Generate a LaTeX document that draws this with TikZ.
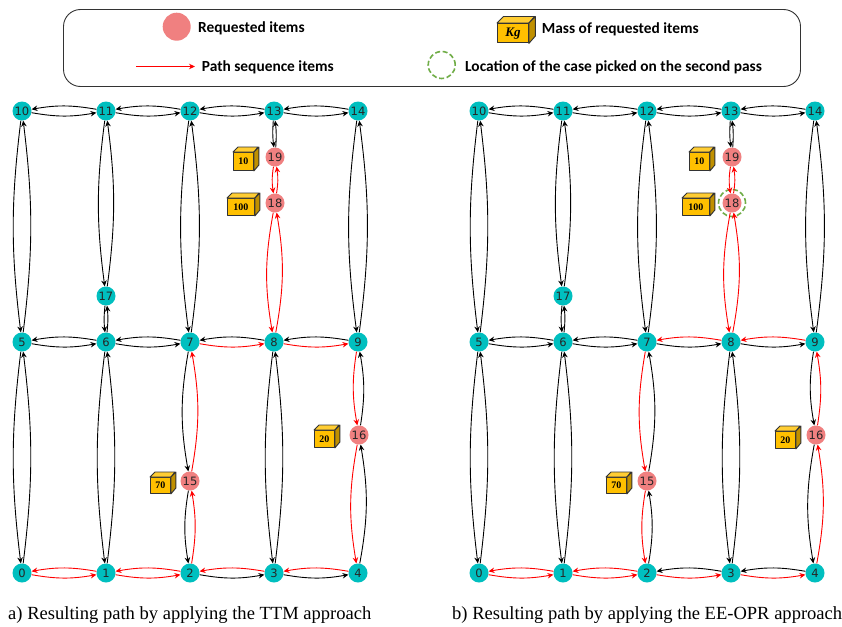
\documentclass[tikz,border=0pt]{standalone}
\usepackage{fontspec}
\setmainfont{Liberation Serif}
\newfontfamily\lblfont{DejaVu Sans}
\newfontfamily\legfont{Carlito}
\usetikzlibrary{arrows.meta}
\definecolor{nodeteal}{rgb}{0,0.75,0.75}
\definecolor{nodepink}{HTML}{F08080}
\definecolor{boxfront}{HTML}{FFC000}
\definecolor{boxtop}{HTML}{FFCD33}
\definecolor{boxside}{HTML}{C09000}
\definecolor{passgreen}{HTML}{70AD47}
\tikzset{
  gridnode/.style={circle,fill=nodeteal,inner sep=0pt,minimum size=19pt,font=\lblfont\fontsize{11.5}{12}\selectfont,text=black!85},
  reqnode/.style={gridnode,fill=nodepink},
  edgeblack/.style={draw=black,line width=0.9pt,-{Stealth[length=6pt,width=5.5pt]}},
  edgered/.style={draw=red,line width=0.9pt,-{Stealth[length=6pt,width=5.5pt]}},
  boxface/.style={draw=black!80,line width=0.9pt,line join=round},
  boxlabel/.style={boxface,fill=boxfront,inner sep=0pt,font=\bfseries\fontsize{10}{11}\selectfont},
  legtext/.style={anchor=west,inner sep=0pt,font=\legfont\bfseries\fontsize{15.4}{16}\selectfont},
  caption/.style={anchor=west,inner sep=0pt,font=\fontsize{18.55}{20}\selectfont},
  secondpass/.style={circle,draw=passgreen,dash pattern=on 5pt off 2.6pt,line width=1.6pt,inner sep=0pt,minimum size=27pt}
}
% name, left, top, width, height, depth, text
\newcommand{\massbox}[7]{%
  \node[boxlabel,anchor=north west,minimum width=#4pt,minimum height=#5pt] (#1) at (#2,#3) {#7};
  \draw[boxface,fill=boxtop] (#1.north west) -- ++(#6pt,#6pt) -- ++(#4pt,0pt) -- (#1.north east) -- cycle;
  \draw[boxface,fill=boxside] (#1.north east) -- ++(#6pt,#6pt) -- ++(0pt,-#5pt) -- (#1.south east) -- cycle;
}
\newcommand{\gridgraph}[2]{%
  \begin{scope}[shift={(#2,0)}]
  \foreach \n/\x/\y in {0/22/573,1/106/573,2/190/573,3/274/573,4/358/573,
    5/22/342,6/106/342,7/190/342,8/274/342,9/358/342,
    10/22/111,11/106/111,12/190/111,13/274/111,14/358/111,17/106/296}
    \node[gridnode] (#1\n) at (\x,\y) {\n};
  \foreach \n/\x/\y in {15/190/481,16/359/435,18/275/203,19/275/157}
    \node[reqnode] (#1\n) at (\x,\y) {\n};
  \end{scope}
}
\begin{document}
\begin{tikzpicture}[x=1pt,y=-1pt]
\useasboundingbox (0,0) rectangle (842,626);
\fill[white] (0,0) rectangle (842,626);

% legend
\draw[black!80,line width=0.9pt,rounded corners=17pt] (63.5,9.5) rectangle (800.5,86.5);
\node[circle,fill=nodepink,minimum size=28pt,inner sep=0pt] (legreq) at (176.7,26.7) {};
\node[legtext] (legreqtext) at (198,28) {Requested items};
\coordinate (legstart) at (136,66.5);
\coordinate (legend) at (195,66.5);
\draw[red,line width=1.2pt,-{Stealth[length=6pt,width=5.5pt]}] (legstart) -- (legend);
\node[legtext] (legpath) at (201.7,67.5) {Path sequence items};
\massbox{legbox}{497}{23}{31}{19.5}{6.5}{\normalfont\itshape\bfseries\fontsize{13}{14}\selectfont Kg}
\node[legtext] (legmass) at (541.7,29) {Mass of requested items};
\node[secondpass] (leggreen) at (441.7,65) {};
\node[legtext] (legloc) at (465,67) {Location of the case picked on the second pass};

% left panel
\massbox{abox10}{233}{152}{20}{18}{5}{10}
\massbox{abox100}{227}{198}{27}{17}{5}{100}
\massbox{abox70}{150}{477}{20}{16}{5}{70}
\massbox{abox20}{314}{430}{20}{17}{5}{20}
\gridgraph{a}{0}

% right panel
\massbox{bbox10}{689}{152}{20}{18}{5}{10}
\massbox{bbox100}{682}{198}{27}{17}{5}{100}
\massbox{bbox70}{606}{477}{20}{16}{5}{70}
\massbox{bbox20}{775}{431}{20}{17}{5}{20}
\gridgraph{b}{457}
\node[secondpass] (bsecond) at (b18) {};

% left: black edges
\foreach \u/\v/\b in {5/6/10,6/5/10,6/7/10,7/6/10,8/7/10,9/8/10,
  10/11/10,11/10/10,11/12/10,12/11/10,12/13/10,13/12/10,13/14/10,14/13/10,
  2/3/10,3/4/10,
  0/5/7,5/0/7,5/10/7,10/5/7,1/6/7,6/1/7,3/8/7,8/3/7,
  6/17/6,17/6/6,17/11/7.5,11/17/7.5,
  7/12/7.5,12/7/7.5,9/14/7.5,14/9/7.5,13/19/5.5,19/13/5.5,
  15/2/9.5,7/15/10,16/9/9.5,4/16/10}
  \draw[edgeblack] (a\u) to[bend right=\b] (a\v);
% left: red edges
\foreach \u/\v/\b in {0/1/10,1/0/10,1/2/10,2/1/10,3/2/10,4/3/10,7/8/10,8/9/10,
  2/15/9.5,15/7/10,8/18/10,18/8/10,18/19/9,19/18/9,9/16/9.5,16/4/10}
  \draw[edgered] (a\u) to[bend right=\b] (a\v);

% right: black edges
\foreach \u/\v/\b in {5/6/10,6/5/10,6/7/10,7/6/10,7/8/10,8/9/10,
  10/11/10,11/10/10,11/12/10,12/11/10,12/13/10,13/12/10,13/14/10,14/13/10,
  3/2/10,4/3/10,
  0/5/7,5/0/7,5/10/7,10/5/7,1/6/7,6/1/7,3/8/7,8/3/7,
  6/17/6,17/6/6,17/11/7.5,11/17/7.5,
  7/12/7.5,12/7/7.5,9/14/7.5,14/9/7.5,13/19/5.5,19/13/5.5,
  2/15/9.5,15/7/10,9/16/9.5,16/4/10}
  \draw[edgeblack] (b\u) to[bend right=\b] (b\v);
% right: red edges
\foreach \u/\v/\b in {0/1/10,1/0/10,1/2/10,2/1/10,2/3/10,3/4/10,9/8/10,8/7/10,
  4/16/10,16/9/9.5,7/15/10,15/2/9.5,8/18/10,18/8/10,18/19/9,19/18/9}
  \draw[edgered] (b\u) to[bend right=\b] (b\v);

% captions
\node[caption] (capa) at (8,615.5) {a) Resulting path by applying the TTM approach};
\node[caption] (capb) at (452,615.5) {b) Resulting path by applying the EE-OPR approach};
\end{tikzpicture}
\end{document}
